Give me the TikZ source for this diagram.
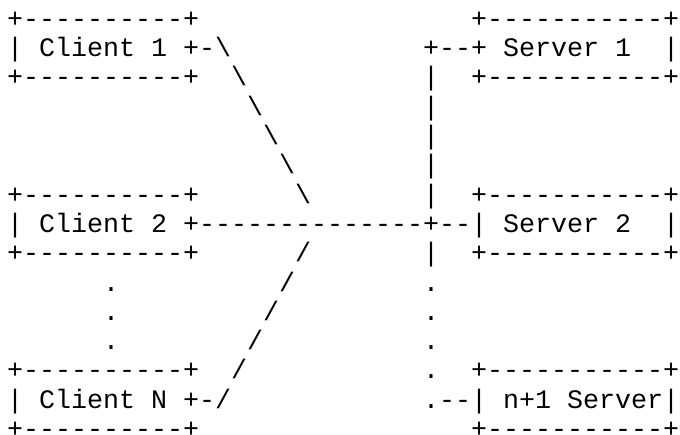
\documentclass[tikz,border=0pt]{standalone}
\usepackage{fontspec}
\newfontfamily\asciifont{Liberation Mono}[Ligatures=TeXOff]
\tikzset{
  asc/.style={anchor=base west, inner sep=0pt, outer sep=0pt,
              font=\asciifont\fontsize{26.667bp}{29.3bp}\selectfont, text=black}
}
% one character cell is 16bp wide, one text row is 29.3bp high
\newcommand\seg[4]{\node[asc] (#1) at ({7+16*#2},{435-27.4-29.3*(#3-1)}) {#4};}
\newcommand\bs{\textbackslash}
\begin{document}
\begin{tikzpicture}[x=1bp,y=1bp]
\fill[white] (0,0) rectangle (680,435);
\useasboundingbox (0,0) rectangle (680,435);
% row 1
\seg{c1top}{0}{1}{+----------+}
\seg{s1top}{29}{1}{+-----------+}
% row 2
\seg{c1mid}{0}{2}{| Client 1 +-\bs}
\seg{s1mid}{26}{2}{+--+ Server 1}
\seg{s1rgt}{41}{2}{|}
% row 3
\seg{c1bot}{0}{3}{+----------+}
\seg{da3}{14}{3}{\bs}
\seg{bus3}{26}{3}{|}
\seg{s1bot}{29}{3}{+-----------+}
% rows 4-6
\seg{da4}{15}{4}{\bs}
\seg{bus4}{26}{4}{|}
\seg{da5}{16}{5}{\bs}
\seg{bus5}{26}{5}{|}
\seg{da6}{17}{6}{\bs}
\seg{bus6}{26}{6}{|}
% row 7
\seg{c2top}{0}{7}{+----------+}
\seg{da7}{18}{7}{\bs}
\seg{bus7}{26}{7}{|}
\seg{s2top}{29}{7}{+-----------+}
% row 8
\seg{c2mid}{0}{8}{| Client 2 +--------------+--| Server 2}
\seg{s2rgt}{41}{8}{|}
% row 9
\seg{c2bot}{0}{9}{+----------+}
\seg{ua9}{18}{9}{/}
\seg{bus9}{26}{9}{|}
\seg{s2bot}{29}{9}{+-----------+}
% rows 10-12
\seg{cd10}{6}{10}{.}
\seg{ua10}{17}{10}{/}
\seg{sd10}{26}{10}{.}
\seg{cd11}{6}{11}{.}
\seg{ua11}{16}{11}{/}
\seg{sd11}{26}{11}{.}
\seg{cd12}{6}{12}{.}
\seg{ua12}{15}{12}{/}
\seg{sd12}{26}{12}{.}
% row 13
\seg{cNtop}{0}{13}{+----------+}
\seg{ua13}{14}{13}{/}
\seg{sd13}{26}{13}{.}
\seg{sNtop}{29}{13}{+-----------+}
% row 14
\seg{cNmid}{0}{14}{| Client N +-/}
\seg{sNmid}{26}{14}{.--| n+1 Server|}
% row 15
\seg{cNbot}{0}{15}{+----------+}
\seg{sNbot}{29}{15}{+-----------+}
\end{tikzpicture}
\end{document}
